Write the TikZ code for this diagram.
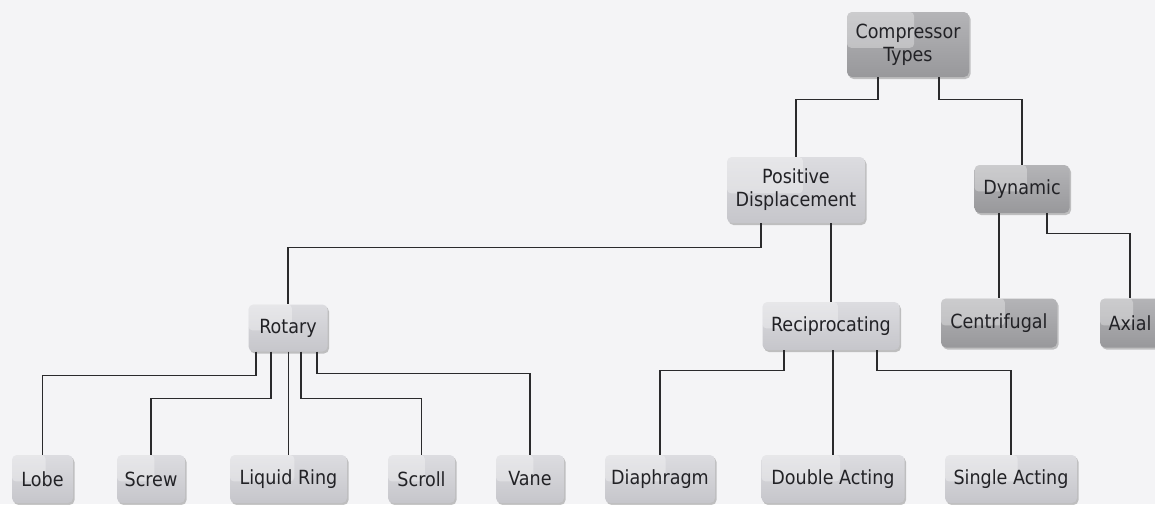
\documentclass[tikz,border=0pt]{standalone}
\usepackage{fontspec}
\setmainfont{DejaVu Sans Condensed}
\usetikzlibrary{shadows,calc}
\definecolor{bgc}{HTML}{F4F4F6}
\definecolor{ltop}{HTML}{DCDCE0}
\definecolor{lbot}{HTML}{C6C6CB}
\definecolor{dtop}{HTML}{B4B4B7}
\definecolor{dbot}{HTML}{98989B}
\definecolor{txt}{HTML}{222226}
\definecolor{linec}{HTML}{2A2A2C}
\begin{document}
\begin{tikzpicture}[x=1pt,y=-1pt,
  box/.style={rounded corners=5pt, inner sep=0pt, draw=none,
    font=\fontsize{19.5}{23}\selectfont, align=center, text=txt,
    drop shadow={shadow xshift=1.5pt, shadow yshift=-2pt, opacity=0.22, fill=black},
    path picture={\fill[white,opacity=0.32,rounded corners=4pt]
      (path picture bounding box.north west) rectangle
      ($(path picture bounding box.north west)!0.55!(path picture bounding box.south east)$);}},
  light/.style={box, top color=ltop, bottom color=lbot},
  dark/.style={box, top color=dtop, bottom color=dbot},
  sz/.style 2 args={minimum width=#1pt, minimum height=#2pt},
  conn/.style={draw=linec, line width=1.4pt}]
\fill[bgc] (0,0) rectangle (1155,504);
\useasboundingbox (0,0) rectangle (1155,504);

% nodes
\node[dark, sz={122}{65}]  (ct) at (908,44.5) {Compressor\\Types};
\node[light, sz={138}{66}] (pd) at (796,190) {Positive\\Displacement};
\node[dark, sz={95}{48}]   (dy) at (1022,189) {Dynamic};
\node[light, sz={79}{47}]  (ro) at (288,328) {Rotary};
\node[light, sz={137}{48}] (re) at (831,326) {Reciprocating};
\node[dark, sz={116}{49}]  (ce) at (999,323) {Centrifugal};
\node[dark, sz={60}{49}]   (ax) at (1130,323) {Axial};
\node[light, sz={61}{48}]  (lo) at (42.5,479) {Lobe};
\node[light, sz={68}{48}]  (sc) at (151,479) {Screw};
\node[light, sz={117}{48}] (lr) at (288.5,479) {Liquid Ring};
\node[light, sz={67}{48}]  (sr) at (421.5,479) {Scroll};
\node[light, sz={68}{48}]  (va) at (530,479) {Vane};
\node[light, sz={110}{48}] (di) at (660,479) {Diaphragm};
\node[light, sz={143}{48}] (da) at (833,479) {Double Acting};
\node[light, sz={132}{48}] (sa) at (1011,479) {Single Acting};

% connectors
\draw[conn] ([xshift=-30pt]ct.south) -- ++(0,22) -| (pd.north);
\draw[conn] ([xshift=31pt]ct.south) -- ++(0,22) -| (dy.north);
\draw[conn] ([xshift=-35pt]pd.south) -- ++(0,24) -| (ro.north);
\draw[conn] (re.north |- pd.south) -- (re.north);
\draw[conn] (ce.north |- dy.south) -- (ce.north);
\draw[conn] ([xshift=25pt]dy.south) -- ++(0,20) -| (ax.north);
\draw[conn] ([xshift=-32pt]ro.south) -- ++(0,24) -| (lo.north);
\draw[conn] ([xshift=-17pt]ro.south) -- ++(0,47) -| (sc.north);
\draw[conn] (lr.north |- ro.south) -- (lr.north);
\draw[conn] ([xshift=13pt]ro.south) -- ++(0,47) -| (sr.north);
\draw[conn] ([xshift=29pt]ro.south) -- ++(0,22) -| (va.north);
\draw[conn] ([xshift=-47pt]re.south) -- ++(0,20) -| (di.north);
\draw[conn] (da.north |- re.south) -- (da.north);
\draw[conn] ([xshift=46pt]re.south) -- ++(0,20) -| (sa.north);
\end{tikzpicture}
\end{document}
